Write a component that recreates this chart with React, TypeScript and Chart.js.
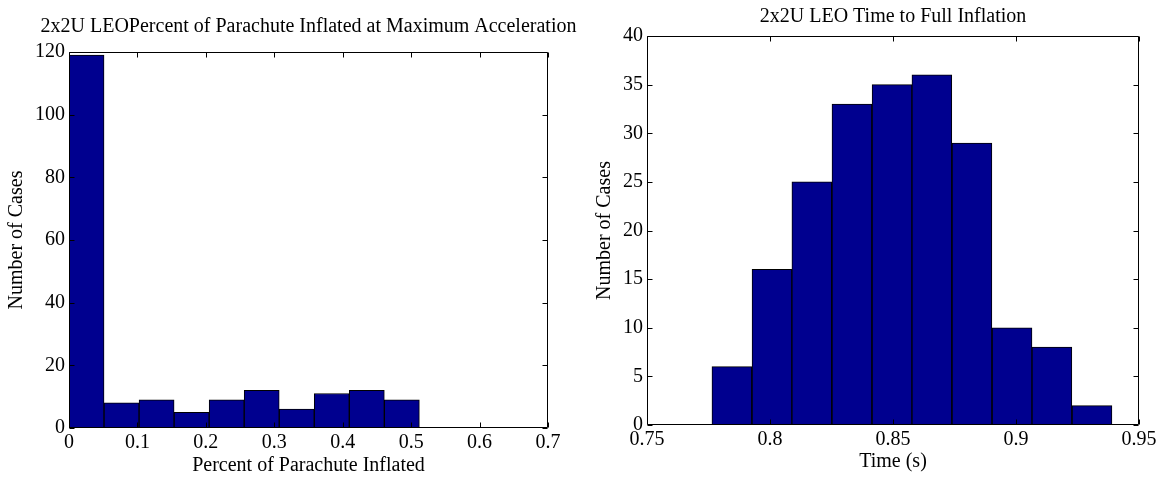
import React, { useEffect, useRef } from "react";
import { Chart, registerables } from "chart.js";

Chart.register(...registerables);

const FONT_FAMILY = '"Liberation Serif", "Times New Roman", serif';
const BAR_FILL = "#00008F";
const PAGE_W = 1169;
const PAGE_H = 479;

// Histogram 1: fraction of the parachute inflated at peak acceleration
const inflatedBinCenters = [0.0256, 0.0768, 0.128, 0.1792, 0.2304, 0.2816, 0.3328, 0.384, 0.4352, 0.4864];
const inflatedCounts = [119, 8, 9, 5, 9, 12, 6, 11, 12, 9];
const inflatedXTicks = [0, 0.1, 0.2, 0.3, 0.4, 0.5, 0.6, 0.7];
const inflatedYTicks = [0, 20, 40, 60, 80, 100, 120];

// Histogram 2: time until the canopy is fully inflated
const timeBinCenters = [0.7845, 0.8008, 0.817, 0.8333, 0.8496, 0.8658, 0.8821, 0.8984, 0.9146, 0.9309];
const timeCounts = [6, 16, 25, 33, 35, 36, 29, 10, 8, 2];
const timeXTicks = [0.75, 0.8, 0.85, 0.9, 0.95];
const timeYTicks = [0, 5, 10, 15, 20, 25, 30, 35, 40];

const fmt = (v: number) => String(Number(v.toFixed(3)));

// Box around the plot area, inward tick marks on all four sides, and the title
const axesFrame = {
  id: "axesFrame",
  afterDraw(chart: any, _args: any, opts: any) {
    const { ctx, chartArea: a, scales } = chart;
    const xs = scales.x;
    const ys = scales.y;
    const L = Math.round(a.left) + 0.5;
    const R = Math.round(a.right) - 0.5;
    const T = Math.round(a.top) + 0.5;
    const B = Math.round(a.bottom) - 0.5;
    const tick = 5;
    ctx.save();
    ctx.strokeStyle = "#000";
    ctx.lineWidth = 1;
    ctx.beginPath();
    ctx.rect(L, T, R - L, B - T);
    for (const t of xs.ticks) {
      const px = Math.round(xs.getPixelForValue(t.value)) + 0.5;
      ctx.moveTo(px, B);
      ctx.lineTo(px, B - tick);
      ctx.moveTo(px, T);
      ctx.lineTo(px, T + tick);
    }
    for (const t of ys.ticks) {
      const py = Math.round(ys.getPixelForValue(t.value)) + 0.5;
      ctx.moveTo(L, py);
      ctx.lineTo(L + tick, py);
      ctx.moveTo(R, py);
      ctx.lineTo(R - tick, py);
    }
    ctx.stroke();
    ctx.fillStyle = "#000";
    ctx.font = `20px ${FONT_FAMILY}`;
    ctx.textAlign = "center";
    ctx.textBaseline = "middle";
    ctx.fillText(opts.text, (a.left + a.right) / 2, opts.titleY);
    ctx.restore();
  },
};

type Spec = {
  title: string;
  titleY: number;
  xLabel: string;
  centers: number[];
  counts: number[];
  xTicks: number[];
  yTicks: number[];
  canvasLeft: number;
  canvasWidth: number;
  plotLeft: number;
  plotRight: number;
  plotTop: number;
  plotBottom: number;
  yTitleOffset: number;
  xTitleOffset: number;
};

function buildConfig(s: Spec): any {
  const tickFont = { family: FONT_FAMILY, size: 20 };
  return {
    type: "bar",
    data: {
      datasets: [
        {
          data: s.centers.map((c, i) => ({ x: c, y: s.counts[i] })),
          backgroundColor: BAR_FILL,
          borderColor: "#000",
          borderWidth: 1,
          borderSkipped: false,
          barPercentage: 1,
          categoryPercentage: 1,
        },
      ],
    },
    options: {
      animation: false,
      responsive: false,
      devicePixelRatio: 1,
      layout: {
        padding: {
          top: s.plotTop,
          right: s.canvasWidth - (s.plotRight - s.canvasLeft),
          bottom: 0,
          left: 0,
        },
      },
      plugins: {
        legend: { display: false },
        tooltip: { enabled: false },
        title: { display: false },
        axesFrame: { text: s.title, titleY: s.titleY },
      },
      scales: {
        x: {
          type: "linear",
          offset: false,
          min: s.xTicks[0],
          max: s.xTicks[s.xTicks.length - 1],
          grid: { display: false, drawTicks: false, offset: false },
          border: { display: false },
          afterBuildTicks: (scale: any) => {
            scale.ticks = s.xTicks.map((v) => ({ value: v }));
          },
          afterFit: (scale: any) => {
            scale.height = PAGE_H - s.plotBottom;
          },
          ticks: {
            color: "#000",
            font: tickFont,
            padding: 3,
            maxRotation: 0,
            autoSkip: false,
            callback: (v: number) => fmt(v),
          },
          title: {
            display: true,
            text: s.xLabel,
            color: "#000",
            font: tickFont,
            padding: { top: 0, bottom: s.xTitleOffset },
          },
        },
        y: {
          type: "linear",
          min: s.yTicks[0],
          max: s.yTicks[s.yTicks.length - 1],
          grid: { display: false, drawTicks: false },
          border: { display: false },
          afterBuildTicks: (scale: any) => {
            scale.ticks = s.yTicks.map((v) => ({ value: v }));
          },
          afterFit: (scale: any) => {
            scale.width = s.plotLeft - s.canvasLeft;
          },
          ticks: {
            color: "#000",
            font: tickFont,
            padding: 4,
            autoSkip: false,
            callback: (v: number) => fmt(v),
          },
          title: {
            display: true,
            text: "Number of Cases",
            color: "#000",
            font: tickFont,
            padding: { top: s.yTitleOffset, bottom: 0 },
          },
        },
      },
    },
    plugins: [axesFrame],
  };
}

const inflatedSpec: Spec = {
  title: "2x2U LEOPercent of Parachute Inflated at Maximum Acceleration",
  titleY: 27,
  xLabel: "Percent of Parachute Inflated",
  centers: inflatedBinCenters,
  counts: inflatedCounts,
  xTicks: inflatedXTicks,
  yTicks: inflatedYTicks,
  canvasLeft: 0,
  canvasWidth: 584,
  plotLeft: 69,
  plotRight: 548,
  plotTop: 52,
  plotBottom: 428,
  yTitleOffset: 5,
  xTitleOffset: 1,
};

const timeSpec: Spec = {
  title: "2x2U LEO Time to Full Inflation",
  titleY: 17,
  xLabel: "Time (s)",
  centers: timeBinCenters,
  counts: timeCounts,
  xTicks: timeXTicks,
  yTicks: timeYTicks,
  canvasLeft: 584,
  canvasWidth: 585,
  plotLeft: 647,
  plotRight: 1139,
  plotTop: 36,
  plotBottom: 425,
  yTitleOffset: 9,
  xTitleOffset: 5,
};

function Histogram({ spec }: { spec: Spec }) {
  const ref = useRef<HTMLCanvasElement>(null);
  useEffect(() => {
    const chart = new Chart(ref.current as HTMLCanvasElement, buildConfig(spec));
    return () => chart.destroy();
  }, [spec]);
  return (
    <canvas
      ref={ref}
      width={spec.canvasWidth}
      height={PAGE_H}
      style={{
        position: "absolute",
        left: spec.canvasLeft,
        top: 0,
        width: spec.canvasWidth,
        height: PAGE_H,
      }}
    />
  );
}

export default function App() {
  return (
    <div
      style={{
        position: "fixed",
        left: 0,
        top: 0,
        width: PAGE_W,
        height: PAGE_H,
        background: "#fff",
        overflow: "hidden",
      }}
    >
      <Histogram spec={inflatedSpec} />
      <Histogram spec={timeSpec} />
    </div>
  );
}
